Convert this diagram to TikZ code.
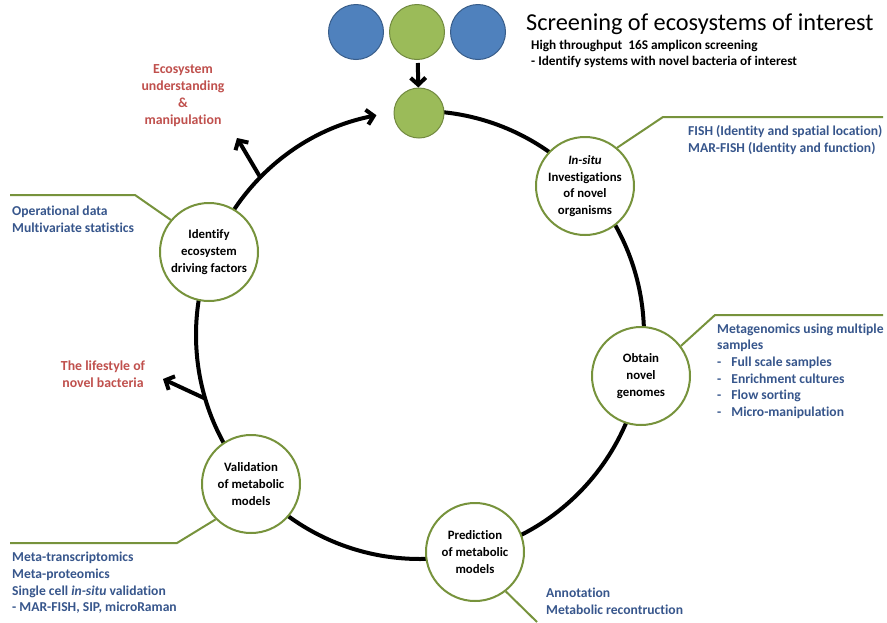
\documentclass[tikz,border=0pt]{standalone}
\usepackage{fontspec}
\setmainfont{Carlito}[Ligatures={NoCommon,NoRare}]
\usetikzlibrary{arrows.meta,calc}
\definecolor{olive}{RGB}{119,147,60}
\definecolor{gfill}{RGB}{155,187,89}
\definecolor{gdraw}{RGB}{113,137,63}
\definecolor{bfill}{RGB}{79,129,189}
\definecolor{bdraw}{RGB}{56,93,138}
\definecolor{tblue}{RGB}{55,86,140}
\definecolor{tred}{RGB}{192,80,77}
\tikzset{
  stage/.style={circle,draw=olive,line width=2pt,fill=white,minimum size=98pt,inner sep=0pt,align=center,font=\fontsize{12.8}{16.6}\selectfont\bfseries},
  bluedot/.style={circle,draw=bdraw,line width=1pt,fill=bfill,minimum size=55pt,inner sep=0pt},
  greendot/.style={circle,draw=gdraw,line width=1pt,fill=gfill,minimum size=55pt,inner sep=0pt},
  smallgreen/.style={circle,draw=gdraw,line width=1pt,fill=gfill,minimum size=50pt,inner sep=0pt},
  arr/.style={line width=4pt,black,-{Straight Barb[length=7pt,width=15pt,line width=4pt]}},
  callout/.style={olive,line width=2pt},
  info/.style={anchor=west,align=left,text=tblue,font=\fontsize{13.6}{16.6}\selectfont\bfseries,inner sep=0pt},
  outcome/.style={align=center,text=tred,font=\fontsize{13.8}{17}\selectfont\bfseries,inner sep=0pt}
}
\begin{document}
\begin{tikzpicture}[x=1pt,y=-1pt]
\useasboundingbox[fill=white] (0,0) rectangle (887,622);
\coordinate (c) at (420,335);
% ring
\draw[arr] ($(c)+(-90:224)$) arc[start angle=-90,end angle=258.8,radius=224];
% branch arrows
\coordinate (b1) at ($(c)+(-135.4:224)$);
\coordinate (t1) at (237,138);
\draw[arr] (b1) -- (t1);
\coordinate (b2) at ($(c)+(163.5:224)$);
\coordinate (t2) at (163,379);
\draw[arr] (b2) -- (t2);
% top dots
\node[bluedot] (bl) at (356,32) {};
\node[greendot] (gt) at (417,32) {};
\node[bluedot] (br) at (478,32) {};
\node[smallgreen] (gs) at (419,113) {};
\draw[arr,shorten <=3pt] (gt) -- (gs);
% title
\node[anchor=west,inner sep=0pt,font=\fontsize{24.3}{27}\selectfont] (title) at (526,24) {Screening of ecosystems of interest};
\node[anchor=west,inner sep=0pt,align=left,font=\fontsize{13.3}{16.5}\selectfont\bfseries] (sub) at (531,54) {High throughput\ \ 16S amplicon screening\\- Identify systems with novel bacteria of interest};
% stages
\node[stage] (insitu) at (585,186) {\textit{In-situ}\\Investigations\\of novel\\organisms};
\node[stage] (obtain) at (641,376) {Obtain\\novel\\genomes};
\node[stage] (pred) at (475,552) {Prediction\\of metabolic\\models};
\node[stage] (valid) at (251,484) {Validation\\of metabolic\\models};
\node[stage] (ident) at (209,252) {Identify\\ecosystem\\driving factors};
% callouts
\coordinate (k1) at (663,117); \coordinate (e1) at (883,117);
\draw[callout] (insitu.50) -- (k1) -- (e1);
\node[info] (i1) at (688,140) {FISH (Identity and spatial location)\\MAR-FISH (Identity and function)};
\coordinate (k2) at (715,315); \coordinate (e2) at (883,315);
\draw[callout] (obtain.37) -- (k2) -- (e2);
\node[info] (i2) at (717,371) {Metagenomics using multiple\\samples\\-\hspace{10pt}Full scale samples\\-\hspace{10pt}Enrichment cultures\\-\hspace{10pt}Flow sorting\\-\hspace{10pt}Micro-manipulation};
\coordinate (k3) at (537,622);
\draw[callout] (pred.-52) -- (k3);
\node[info] (i3) at (546,601) {Annotation\\Metabolic recontruction};
\coordinate (k4) at (177,543); \coordinate (e4) at (10,543);
\draw[callout] (valid.-135) -- (k4) -- (e4);
\node[info] (i4) at (12,583) {Meta-transcriptomics\\Meta-proteomics\\Single cell \textit{in-situ} validation\\- MAR-FISH, SIP, microRaman};
\coordinate (k5) at (135,195); \coordinate (e5) at (10,195);
\draw[callout] (ident.140) -- (k5) -- (e5);
\node[info] (i5) at (12,219) {Operational data\\Multivariate statistics};
% outcomes
\node[outcome] (o1) at (183,96) {Ecosystem\\understanding\\\&\\manipulation};
\node[outcome] (o2) at (103,374) {The lifestyle of\\novel bacteria};
\end{tikzpicture}
\end{document}
